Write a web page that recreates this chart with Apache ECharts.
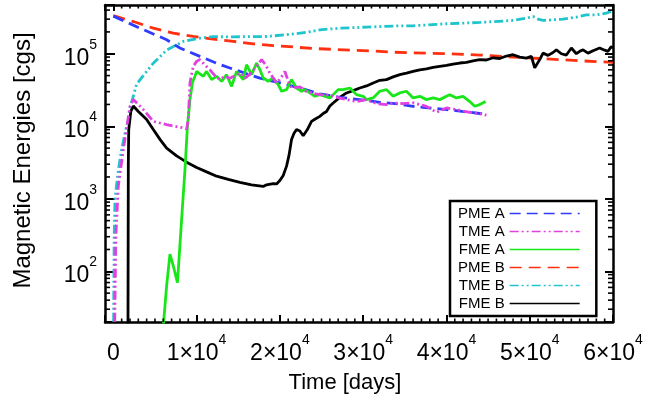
<!DOCTYPE html>
<html>
<head>
<meta charset="utf-8">
<script src="https://cdn.jsdelivr.net/npm/echarts@6/dist/echarts.min.js"></script>
<style>
html,body{margin:0;padding:0;background:#fff;}
#chart{width:652px;height:405px;}
</style>
</head>
<body>
<div id="chart"></div>
<script>
// ---- Data (time in days, energy in cgs) ----
const seriesNames = ['PME A', 'TME A', 'FME A', 'PME B', 'TME B', 'FME B'];

const pmeA = [[0,3.3e5],[3200,2.25e5],[6400,1.56e5],[8000,1.2e5],[10400,9.2e4],[12800,7.1e4],[15200,5.7e4],[17600,4.6e4],[20000,3.96e4],[22400,3.37e4],[24800,2.8e4],[27200,2.5e4],[29600,2.33e4],[32000,2.14e4],[34400,2.02e4],[36000,1.88e4],[40000,1.7e4],[44000,1.5e4],[44800,1.47e4]];

const tmeA = [[100,5],[300,300],[600,1500],[1200,4800],[2000,1.88e4],[2400,2.33e4],[3000,2.0e4],[3600,1.7e4],[4800,1.17e4],[6400,1.05e4],[8400,9500],[8800,9200],[9000,1.24e4],[9200,3.96e4],[9600,6.7e4],[10000,7.85e4],[10400,8.3e4],[11000,7.0e4],[11600,6.0e4],[12200,5.0e4],[12800,4.4e4],[13400,4.9e4],[14000,4.6e4],[14600,5.0e4],[15200,5.4e4],[15800,4.6e4],[16400,5.2e4],[17200,6.7e4],[17800,8.3e4],[18300,7.0e4],[18800,5.4e4],[19600,3.96e4],[20100,4.6e4],[20600,5.7e4],[21000,4.2e4],[21400,3.37e4],[22400,3.5e4],[23200,3.0e4],[24000,2.85e4],[24800,2.73e4],[25600,2.7e4],[26400,2.6e4],[27200,2.45e4],[28000,2.33e4],[29200,2.2e4],[30400,2.33e4],[31600,2.05e4],[32800,1.99e4],[33600,2.1e4],[34800,2.05e4],[36000,2.1e4],[37600,1.88e4],[38800,1.56e4],[40000,1.79e4],[41200,1.7e4],[42000,1.62e4],[42800,1.56e4],[43800,1.5e4],[44800,1.42e4]];

const fmeA = [[5950,15],[6400,63],[6800,172],[7200,119],[7700,70],[8200,520],[8600,2500],[8900,1.0e4],[9200,2.33e4],[9500,4.0e4],[9800,4.9e4],[10000,5.7e4],[10200,5.42e4],[10800,4.88e4],[11200,5.71e4],[11800,4.4e4],[12400,4.88e4],[13000,4.17e4],[13600,5.14e4],[14200,3.55e4],[14800,5.71e4],[15600,4.4e4],[16000,7.06e4],[16600,5.14e4],[17200,7.45e4],[17600,6.03e4],[18000,4.63e4],[18600,4.17e4],[19200,4.63e4],[19800,3.75e4],[20200,3.04e4],[20800,3.2e4],[21400,4.4e4],[22000,3.37e4],[22600,3.04e4],[23000,3.2e4],[23600,2.88e4],[24200,2.59e4],[24800,2.73e4],[26000,2.46e4],[27000,3.2e4],[27600,3.2e4],[28400,3.37e4],[29200,2.73e4],[30000,2.59e4],[30400,2.33e4],[31200,2.46e4],[32000,3.04e4],[32800,3.2e4],[33600,2.59e4],[34400,2.88e4],[35200,3.04e4],[36000,2.46e4],[36800,2.59e4],[37600,2.33e4],[38400,2.46e4],[39200,2.33e4],[40000,2.59e4],[40400,2.73e4],[41200,2.46e4],[42000,2.59e4],[42800,2.19e4],[43400,1.89e4],[44000,1.99e4],[44700,2.2e4]];

const pmeB = [[0,3.35e5],[2400,2.78e5],[4800,2.25e5],[7200,1.92e5],[9600,1.73e5],[12000,1.59e5],[14400,1.48e5],[16800,1.37e5],[19200,1.29e5],[21600,1.24e5],[24000,1.18e5],[26400,1.15e5],[28800,1.12e5],[31200,1.09e5],[33600,1.05e5],[36000,1.03e5],[40000,1.0e5],[44000,9.6e4],[48000,9.0e4],[52000,8.5e4],[56000,8.0e4],[60000,7.6e4]];

const tmeB = [[0,5],[100,300],[200,1000],[600,2500],[1000,4800],[1400,8000],[1800,1.24e4],[2000,1.8e4],[2400,2.6e4],[2800,3.8e4],[3600,5.0e4],[4800,7.4e4],[6400,1.12e5],[8400,1.48e5],[10400,1.64e5],[12000,1.72e5],[14400,1.71e5],[18400,1.73e5],[20800,1.83e5],[23200,1.97e5],[24800,2.14e5],[27200,2.25e5],[30400,2.33e5],[34400,2.43e5],[36000,2.43e5],[40000,2.59e5],[44000,2.7e5],[48000,2.88e5],[49600,3.1e5],[50400,3.26e5],[51000,3.0e5],[51600,2.88e5],[52800,2.94e5],[54000,3.0e5],[55600,3.2e5],[56800,3.44e5],[58000,3.44e5],[59200,3.63e5],[60000,3.9e5]];

const fmeB = [[1750,5],[1800,3000],[1850,9000],[2100,1.6e4],[2400,1.9e4],[3000,1.6e4],[3600,1.37e4],[4000,1.24e4],[4800,9000],[5600,6600],[6400,5000],[7600,3900],[8800,3200],[10000,2700],[11200,2350],[12400,2050],[13800,1850],[15200,1680],[16600,1560],[18000,1480],[18400,1560],[19200,1620],[19600,1600],[20000,1790],[20400,2100],[20800,2820],[21100,4000],[21400,6560],[21700,8000],[22000,9000],[22400,8600],[22800,7400],[23300,9000],[23800,1.17e4],[24200,1.25e4],[24800,1.37e4],[25200,1.5e4],[25600,1.6e4],[26000,1.9e4],[26400,2.09e4],[27200,2.5e4],[28000,2.88e4],[28800,3.1e4],[29600,3.37e4],[30400,3.6e4],[31200,3.95e4],[32000,4.3e4],[32800,4.4e4],[33600,4.8e4],[34400,5.14e4],[35200,5.4e4],[36000,5.7e4],[36800,6.0e4],[37600,6.2e4],[38400,6.5e4],[39200,6.7e4],[40000,6.9e4],[40800,7.2e4],[41600,7.45e4],[42400,7.6e4],[43200,8.0e4],[44000,8.3e4],[44800,8.2e4],[45600,8.8e4],[46400,8.6e4],[47200,9.3e4],[48000,9.7e4],[48800,9.0e4],[49600,8.7e4],[50200,9.2e4],[50600,6.4e4],[51200,8.3e4],[51600,1.02e5],[52200,9.5e4],[52800,1.04e5],[53200,1.13e5],[53800,1.0e5],[54400,9.6e4],[55000,1.2e5],[55600,1.0e5],[56000,1.08e5],[56400,1.13e5],[57000,1.02e5],[57600,1.1e5],[58400,1.2e5],[59000,1.12e5],[59400,1.08e5],[59800,1.26e5],[60000,1.2e5]];

// ---- Axes ----
const xMin = -1000, xMax = 60000;
const yMin = 20, yMax = 4.7e5;
const xTickLabels = ['0', '1×10^4', '2×10^4', '3×10^4', '4×10^4', '5×10^4', '6×10^4'];
const yTickLabels = ['10^2', '10^3', '10^4', '10^5'];

// minor tick positions (axis decoration)
const xMinorTicks = [];
for (let v = 1000; v < xMax; v += 1000) if (v % 10000 !== 0) xMinorTicks.push(v);
const yMinorTicks = [];
for (let e = 1; e <= 5; e++) for (let m = 2; m <= 9; m++) { const v = m * Math.pow(10, e); if (v > yMin && v < yMax) yMinorTicks.push(v); }

const F = '"Liberation Sans", Arial, Helvetica, sans-serif';
const rich = {
  n: { fontSize: 23, fontFamily: F, color: '#000', lineHeight: 32, verticalAlign: 'bottom' },
  s: { fontSize: 14, fontFamily: F, color: '#000', lineHeight: 15, verticalAlign: 'top' }
};
function toRich(lbl) {
  const p = lbl.split('^');
  return p.length > 1 ? '{n|' + p[0] + '}{s|' + p[1] + '}' : '{n|' + p[0] + '}';
}
function fmtX(v) {
  if (Math.abs(v % 10000) > 1e-6) return '';
  const i = Math.round(v / 10000);
  return xTickLabels[i] !== undefined ? toRich(xTickLabels[i]) : '';
}
function fmtY(v) {
  const e = Math.log10(v);
  if (Math.abs(e - Math.round(e)) > 1e-6) return '';
  const lbl = yTickLabels.find(s => s === '10^' + Math.round(e));
  return lbl ? toRich(lbl) : '';
}

const frameLine = { show: true, onZero: false, lineStyle: { color: '#000', width: 2.5 } };

const colors = {
  'PME A': '#2f3cff', 'TME A': '#e040e0', 'FME A': '#19e619',
  'PME B': '#ff3010', 'TME B': '#20c4cc', 'FME B': '#000000'
};
const dashes = {
  'PME A': [11, 6], 'TME A': [9, 3, 2, 3, 2, 3], 'FME A': 'solid',
  'PME B': [12, 7], 'TME B': [9, 3, 2, 3, 2, 3], 'FME B': 'solid'
};
const dataMap = { 'PME A': pmeA, 'TME A': tmeA, 'FME A': fmeA, 'PME B': pmeB, 'TME B': tmeB, 'FME B': fmeB };
const drawOrder = ['PME B', 'TME B', 'FME B', 'PME A', 'FME A', 'TME A'];

const lineSeries = drawOrder.map(name => ({
  name: name, type: 'line', data: dataMap[name], showSymbol: false, symbol: 'none',
  smooth: false, clip: true, animation: false,
  xAxisIndex: 0, yAxisIndex: 0,
  lineStyle: { color: colors[name], width: 2.8, type: dashes[name] },
  itemStyle: { color: colors[name] }
}));

const minorX = {
  type: 'custom', name: 'xminor', silent: true, animation: false, clip: false, z: 5,
  xAxisIndex: 0, yAxisIndex: 0,
  data: xMinorTicks.map(v => [v, 100]),
  renderItem: function (params, api) {
    const cs = params.coordSys;
    const x = api.coord([api.value(0), 100])[0];
    const top = cs.y, bot = cs.y + cs.height;
    return { type: 'group', children: [
      { type: 'line', shape: { x1: x, y1: bot, x2: x, y2: bot - 3.5 }, style: { stroke: '#000', lineWidth: 1.6 } },
      { type: 'line', shape: { x1: x, y1: top, x2: x, y2: top + 3.5 }, style: { stroke: '#000', lineWidth: 1.6 } }
    ] };
  }
};
const minorY = {
  type: 'custom', name: 'yminor', silent: true, animation: false, clip: false, z: 5,
  xAxisIndex: 0, yAxisIndex: 0,
  data: yMinorTicks.map(v => [0, v]),
  renderItem: function (params, api) {
    const cs = params.coordSys;
    const y = api.coord([0, api.value(1)])[1];
    const l = cs.x, r = cs.x + cs.width;
    return { type: 'group', children: [
      { type: 'line', shape: { x1: l, y1: y, x2: l + 5, y2: y }, style: { stroke: '#000', lineWidth: 1.6 } },
      { type: 'line', shape: { x1: r, y1: y, x2: r - 5, y2: y }, style: { stroke: '#000', lineWidth: 1.6 } }
    ] };
  }
};

const chart = echarts.init(document.getElementById('chart'), null, { renderer: 'canvas' });
chart.setOption({
  animation: false,
  backgroundColor: '#fff',
  grid: { left: 105, right: 39, top: 5, bottom: 83, containLabel: false },
  xAxis: [
    { type: 'value', min: xMin, max: xMax, splitNumber: 6, position: 'bottom',
      axisLine: frameLine, splitLine: { show: false },
      axisTick: { inside: true, length: 7, lineStyle: { color: '#000', width: 2 } },
      axisLabel: { margin: 11, formatter: fmtX, rich: rich, hideOverlap: false },
      name: 'Time [days]', nameLocation: 'middle', nameGap: 50,
      nameTextStyle: { fontSize: 22, fontFamily: F, color: '#000', padding: [0, 28, 0, 0] } },
    { type: 'value', min: xMin, max: xMax, splitNumber: 6, position: 'top',
      axisLine: frameLine, splitLine: { show: false },
      axisTick: { inside: true, length: 6, lineStyle: { color: '#000', width: 2 } },
      axisLabel: { show: false } }
  ],
  yAxis: [
    { type: 'log', logBase: 10, min: yMin, max: yMax, position: 'left',
      axisLine: frameLine, splitLine: { show: false },
      axisTick: { inside: true, length: 10, lineStyle: { color: '#000', width: 2 } },
      axisLabel: { margin: 8, formatter: fmtY, rich: rich, hideOverlap: false },
      name: 'Magnetic Energies [cgs]', nameLocation: 'middle', nameGap: 70,
      nameTextStyle: { fontSize: 24, fontFamily: F, color: '#000', padding: [0, 0, 0, 6] } },
    { type: 'log', logBase: 10, min: yMin, max: yMax, position: 'right',
      axisLine: frameLine, splitLine: { show: false },
      axisTick: { inside: true, length: 8, lineStyle: { color: '#000', width: 2 } },
      axisLabel: { show: false } }
  ],
  legend: {
    data: seriesNames, orient: 'vertical', left: 450, top: 201,
    padding: [5, 16, 5, 8], itemGap: 3, itemWidth: 70, itemHeight: 14,
    align: 'right', borderColor: '#000', borderWidth: 2.5, backgroundColor: '#fff',
    textStyle: { fontSize: 15, fontFamily: F, color: '#000', width: 54 },
    itemStyle: { opacity: 0 },
    lineStyle: { width: 1.3 }, selectedMode: false
  },
  series: lineSeries.concat([minorX, minorY])
});
</script>
</body>
</html>
